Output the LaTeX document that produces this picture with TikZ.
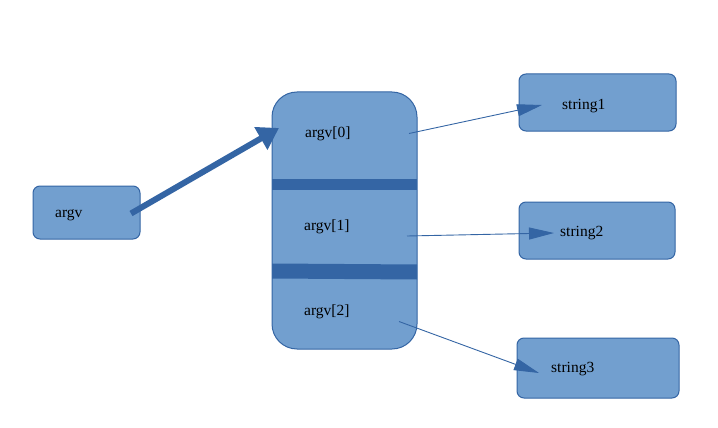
\documentclass[tikz,border=0pt]{standalone}
\usepackage{fontspec}
\setmainfont{Liberation Serif}
\usetikzlibrary{arrows.meta}
\definecolor{boxfill}{HTML}{729FCF}
\definecolor{boxline}{HTML}{3465A4}
\begin{document}
\begin{tikzpicture}[x=1pt,y=-1pt,
  box/.style={draw=boxline,fill=boxfill,line width=1pt,rounded corners=7pt,inner sep=0pt},
  lbl/.style={anchor=west,inner sep=0pt,font=\fontsize{15.5}{18}\selectfont,text=black},
  thin/.style={draw=boxline,line width=0.9pt,-{Triangle[length=25pt,width=12pt]}},
  thick/.style={draw=boxline,line width=6pt,-{Triangle[length=21pt,width=25pt]}},
  band/.style={fill=boxline,draw=none}]
\useasboundingbox (0,0) rectangle (718,428);
% boxes
\node[box,minimum width=107pt,minimum height=53pt] (argvbox) at (86.5,212.5) {};
\node[box,rounded corners=25pt,minimum width=145pt,minimum height=257pt] (arr) at (344.5,220.5) {};
\fill[band] (272,179) rectangle (417,190);
\fill[band] (272,263.5) -- (417,264.5) -- (417,279.5) -- (272,278.5) -- cycle;
\node[box,minimum width=157pt,minimum height=57pt] (s1) at (597.5,102.5) {};
\node[box,minimum width=156pt,minimum height=57pt] (s2) at (597,230.5) {};
\node[box,minimum width=162pt,minimum height=60pt] (s3) at (598,368) {};
% labels
\node[lbl] (targv) at (55,215) {argv};
\node[lbl] (t0) at (305,134) {argv[0]};
\node[lbl] (t1) at (304,227) {argv[1]};
\node[lbl] (t2) at (304,312) {argv[2]};
\node[lbl] (ts1) at (562,106) {string1};
\node[lbl] (ts2) at (560,233) {string2};
\node[lbl] (ts3) at (551,369) {string3};
% connector endpoints
\coordinate (a0) at (131,213.5);
\coordinate (a1) at (279,128);
\coordinate (p0) at (409,133.5);
\coordinate (q0) at (542,105);
\coordinate (p1) at (407,236);
\coordinate (q1) at (554,233);
\coordinate (p2) at (399,321.5);
\coordinate (q2) at (539,373);
\draw[thick] (a0) -- (a1);
\draw[thin] (p0) -- (q0);
\draw[thin] (p1) -- (q1);
\draw[thin] (p2) -- (q2);
\end{tikzpicture}
\end{document}
